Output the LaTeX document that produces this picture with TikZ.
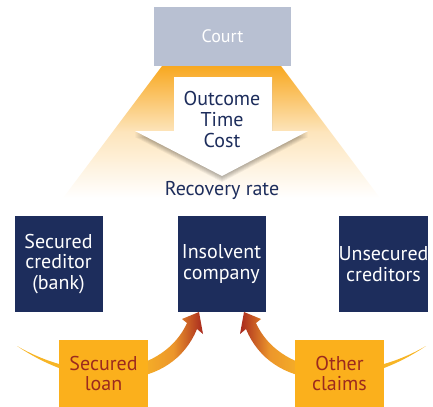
\documentclass[tikz,border=0pt]{standalone}
\usepackage{fontspec}
\setmainfont{PT Sans}
\definecolor{courtc}{HTML}{B8C0D2}
\definecolor{navy}{HTML}{1D2D5C}
\definecolor{boxyel}{HTML}{FBB01C}
\definecolor{darkred}{HTML}{9C2A1E}
\definecolor{glow}{HTML}{F8A820}
\definecolor{arryel}{HTML}{F7B526}
\definecolor{arrorg}{HTML}{EC962B}
\definecolor{arrred}{HTML}{A8281E}
\pgfdeclarehorizontalshading{claimshadeL}{100bp}{color(0bp)=(arryel); color(25bp)=(arryel); color(57bp)=(arryel); color(67bp)=(arrorg); color(75bp)=(arrred); color(100bp)=(arrred)}
\pgfdeclarehorizontalshading{claimshadeR}{100bp}{color(0bp)=(arrred); color(25bp)=(arrred); color(33bp)=(arrorg); color(43bp)=(arryel); color(75bp)=(arryel); color(100bp)=(arryel)}
\newcommand\claimpath{(17,346) .. controls (90,388) and (165,372) .. (187,323)
      -- (182,319) -- (199,312) -- (203,334) -- (197,329)
      .. controls (172,390) and (90,395) .. (17,346) -- cycle}
\newcommand\arrowpath{(174,77) -- (272,77) -- (272,131) -- (308,131) -- (222,176) -- (135,131) -- (174,131) -- cycle}
\tikzset{
  txt/.style={font=\fontsize{15}{15.4}\selectfont, align=center, inner sep=0pt},
  navybox/.style={fill=navy, text=white, minimum width=66pt, minimum height=72pt, txt},
  yelbox/.style={fill=boxyel, text=darkred, minimum width=66.75pt, minimum height=50.25pt, txt}
}
\begin{document}
\begin{tikzpicture}[x=0.75pt,y=-0.75pt]
\useasboundingbox (0,0) rectangle (433,407);
% glow
\shade[top color=glow, bottom color=white, middle color=glow!30]
  (162,66) -- (281,66) -- (380,198) -- (63,198) -- cycle;
% court
\node[fill=courtc, text=white, minimum width=102.75pt, minimum height=44.25pt,
  font=\fontsize{13.5}{14}\selectfont, inner sep=0pt] (court) at (222.5,36.5) {Court};
% white arrow with soft shadow
\foreach \d in {1,...,6} {
  \fill[black, opacity=0.05, shift={(0,\d)}] \arrowpath;
}
\fill[white] \arrowpath;
\node[txt, text=navy] (factors) at (222,119.5) {Outcome\\Time\\Cost};
\node[txt, text=navy] (rate) at (222,190) {Recovery rate};
% curved arrows
\shade[shading=claimshadeL] \claimpath;
\begin{scope}[shift={(443,0)}, xscale=-1]
\shade[shading=claimshadeR] \claimpath;
\end{scope}
% boxes
\node[navybox] (bank) at (58.5,264) {Secured\\creditor\\(bank)};
\node[navybox] (company) at (221.5,264) {Insolvent\\company};
\node[navybox] (unsecured) at (383.5,264) {Unsecured\\creditors};
\node[yelbox] (loan) at (103.5,373.5) {Secured\\loan};
\node[yelbox] (claims) at (339.5,373.5) {Other\\claims};
\end{tikzpicture}
\end{document}
